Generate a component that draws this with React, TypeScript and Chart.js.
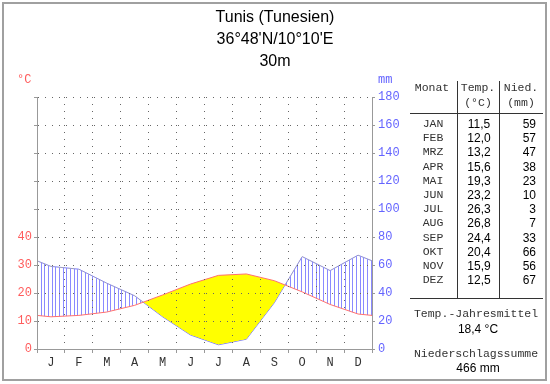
import React, { useEffect, useRef } from 'react';
import { Chart, registerables } from 'chart.js';

Chart.register(...registerables);

// ---- data ----
const TITLE_LINES = ['Tunis (Tunesien)', "36°48'N/10°10'E", '30m'];
const MONTH_INITIALS = ['J', 'F', 'M', 'A', 'M', 'J', 'J', 'A', 'S', 'O', 'N', 'D'];
const MONTH_ABBR = ['JAN', 'FEB', 'MRZ', 'APR', 'MAI', 'JUN', 'JUL', 'AUG', 'SEP', 'OKT', 'NOV', 'DEZ'];
const TEMPS = [11.5, 12.0, 13.2, 15.6, 19.3, 23.2, 26.3, 26.8, 24.4, 20.4, 15.9, 12.5];
const PRECIP = [59, 57, 47, 38, 23, 10, 3, 7, 33, 66, 56, 67];
const TEMP_LABEL_MAX = 40;
const TEMP_AXIS_MAX = 90;
const PRECIP_AXIS_MAX = 180;
const MEAN_TEMP_TEXT = '18,4 °C';
const PRECIP_SUM_TEXT = '466 mm';

// ---- styles ----
const RED = '#ff5c5c';
const BLUE = '#6464ff';
const LINE_RED = '#ff7070';
const LINE_BLUE = '#7878ff';
const HATCH = '#8a8aff';
const YELLOW = '#ffff00';
const AXIS = '#999999';
const GRID = '#666666';
const MONO = '"Liberation Mono", "Courier New", monospace';
const SANS = '"Liberation Sans", Arial, sans-serif';
const TRANSPARENT = 'rgba(0,0,0,0)';

// points include the neighbouring month on each side so the lines reach the axes
function wrapSeries(vals: number[]) {
  const pts = vals.map((v, i) => ({ x: i + 0.5, y: v }));
  return [{ x: -0.5, y: vals[vals.length - 1] }, ...pts, { x: vals.length + 0.5, y: vals[0] }];
}

const fmt = (v: number) => v.toFixed(1).replace('.', ',');

type TxtProps = {
  x: number;
  y: number;
  align?: 'left' | 'center' | 'right';
  font?: string;
  size?: number;
  color?: string;
  children: React.ReactNode;
};

function Txt({ x, y, align = 'left', font = MONO, size = 11.5, color = '#333', children }: TxtProps) {
  const w = 200;
  const left = align === 'left' ? x : align === 'center' ? x - w / 2 : x - w;
  return (
    <div
      style={{
        position: 'absolute',
        left,
        top: y - 7,
        width: w,
        height: 14,
        lineHeight: '14px',
        textAlign: align,
        fontFamily: font,
        fontSize: size,
        color,
        whiteSpace: 'pre',
      }}
    >
      {children}
    </div>
  );
}

function Line({ x1, y1, x2, y2 }: { x1: number; y1: number; x2: number; y2: number }) {
  return (
    <div
      style={{
        position: 'absolute',
        left: x1,
        top: y1,
        width: Math.max(1, x2 - x1),
        height: Math.max(1, y2 - y1),
        background: '#333',
      }}
    />
  );
}

export default function App() {
  const canvasRef = useRef<HTMLCanvasElement | null>(null);

  useEffect(() => {
    const canvas = canvasRef.current;
    if (!canvas) return;
    const ctx = canvas.getContext('2d')!;

    const pc = document.createElement('canvas');
    pc.width = 11;
    pc.height = 1;
    const pctx = pc.getContext('2d')!;
    pctx.fillStyle = HATCH;
    [0, 4, 8].forEach((px) => pctx.fillRect(px, 0, 1, 1));
    const hatch = ctx.createPattern(pc, 'repeat') as CanvasPattern;

    const tickFont = { family: MONO, size: 12 };

    const chart = new Chart(canvas, {
      type: 'line',
      data: {
        datasets: [
          {
            label: 'Temp',
            data: wrapSeries(TEMPS),
            xAxisID: 'x',
            yAxisID: 'y',
            borderColor: LINE_RED,
            borderWidth: 1,
            pointRadius: 0,
            tension: 0,
            fill: { target: 1, above: YELLOW, below: hatch } as any,
          },
          {
            label: 'Nied',
            data: wrapSeries(PRECIP),
            xAxisID: 'x',
            yAxisID: 'y2',
            borderColor: LINE_BLUE,
            borderWidth: 1,
            pointRadius: 0,
            tension: 0,
            fill: false,
          },
        ],
      },
      options: {
        animation: false,
        responsive: false,
        devicePixelRatio: 1,
        parsing: false as any,
        layout: { padding: { left: 0, top: 97, right: 138, bottom: 10 } },
        plugins: {
          legend: { display: false },
          tooltip: { enabled: false },
          title: { display: false },
        },
        scales: {
          x: {
            type: 'linear',
            position: 'bottom',
            min: 0,
            max: 12,
            afterBuildTicks: (s: any) => {
              const t = [];
              for (let i = 0; i <= MONTH_INITIALS.length * 2; i++) t.push({ value: i / 2 });
              s.ticks = t;
            },
            afterFit: (s: any) => {
              s.height = 25;
            },
            ticks: {
              autoSkip: false,
              maxRotation: 0,
              minRotation: 0,
              padding: 3,
              color: '#333',
              font: tickFont,
              callback: (v: any) => (Number.isInteger(v) ? '' : MONTH_INITIALS[Math.floor(v)]),
            },
            grid: {
              z: 1,
              lineWidth: 1,
              tickLength: 4,
              color: (c: any) => {
                const v = c.tick ? c.tick.value : 0;
                return Number.isInteger(v) && v > 0 && v < 12 ? GRID : TRANSPARENT;
              },
              tickColor: (c: any) => {
                const v = c.tick ? c.tick.value : 0;
                return Number.isInteger(v) ? AXIS : TRANSPARENT;
              },
            },
            border: { display: true, color: AXIS, dash: [1, 6], z: 1 },
          } as any,
          y: {
            type: 'linear',
            position: 'left',
            min: 0,
            max: TEMP_AXIS_MAX,
            afterFit: (s: any) => {
              s.width = 37;
            },
            ticks: {
              stepSize: 10,
              padding: 2,
              color: RED,
              font: tickFont,
              callback: (v: any) => (v <= TEMP_LABEL_MAX ? String(v) : ''),
            },
            grid: {
              z: 1,
              lineWidth: 1,
              tickLength: 3,
              color: (c: any) => (c.tick && c.tick.value > 0 ? GRID : TRANSPARENT),
              tickColor: AXIS,
            },
            border: { display: true, color: AXIS, dash: [1, 6], z: 1 },
          } as any,
          y2: {
            type: 'linear',
            position: 'right',
            min: 0,
            max: PRECIP_AXIS_MAX,
            afterFit: (s: any) => {
              s.width = 40;
            },
            ticks: {
              stepSize: 20,
              padding: 3,
              color: BLUE,
              font: tickFont,
            },
            grid: {
              z: 1,
              drawOnChartArea: false,
              tickLength: 3,
              tickColor: AXIS,
            },
            border: { display: true, color: AXIS, z: 1 },
          } as any,
        },
      },
    });
    return () => chart.destroy();
  }, []);

  const rowY0 = 124;
  const rowStep = 14.2;

  return (
    <div style={{ position: 'absolute', left: 0, top: 0, width: 550, height: 384, background: '#fff', overflow: 'hidden' }}>
      <canvas ref={canvasRef} width={550} height={384} style={{ position: 'absolute', left: 0, top: 0, width: 550, height: 384 }} />
      {/* frame */}
      <div
        style={{
          position: 'absolute',
          left: 2,
          top: 2,
          width: 545,
          height: 379,
          boxSizing: 'border-box',
          border: '2px solid #a0a0a0',
          pointerEvents: 'none',
        }}
      />
      {/* title */}
      {TITLE_LINES.map((t, i) => (
        <div
          key={i}
          style={{
            position: 'absolute',
            left: 0,
            width: 550,
            top: 6 + i * 22,
            height: 22,
            lineHeight: '22px',
            textAlign: 'center',
            fontFamily: SANS,
            fontSize: 16,
            color: '#000',
          }}
        >
          {t}
        </div>
      ))}
      {/* axis units */}
      <Txt x={17} y={80} size={12} color={RED}>°C</Txt>
      <Txt x={378} y={80} size={12} color={BLUE}>mm</Txt>

      {/* table */}
      <Txt x={432} y={88} align="center">Monat</Txt>
      <Txt x={478} y={88} align="center">Temp.</Txt>
      <Txt x={521} y={88} align="center">Nied.</Txt>
      <Txt x={478} y={103} align="center">(°C)</Txt>
      <Txt x={521} y={103} align="center">(mm)</Txt>
      <Line x1={410} y1={113} x2={543} y2={114} />
      <Line x1={457} y1={81} x2={458} y2={298} />
      <Line x1={499} y1={81} x2={500} y2={298} />
      {MONTH_ABBR.map((m, i) => (
        <React.Fragment key={m}>
          <Txt x={433} y={rowY0 + i * rowStep} align="center">{m}</Txt>
          <Txt x={479} y={rowY0 + i * rowStep} align="center" font={SANS} size={12} color="#000">
            {fmt(TEMPS[i])}
          </Txt>
          <Txt x={536} y={rowY0 + i * rowStep} align="right" font={SANS} size={12} color="#000">
            {String(PRECIP[i])}
          </Txt>
        </React.Fragment>
      ))}
      <Line x1={410} y1={298} x2={543} y2={299} />
      <Txt x={476} y={314} align="center">Temp.-Jahresmittel</Txt>
      <Txt x={478} y={329} align="center" font={SANS} size={12} color="#000">{MEAN_TEMP_TEXT}</Txt>
      <Txt x={476} y={354} align="center">Niederschlagssumme</Txt>
      <Txt x={478} y={368} align="center" font={SANS} size={12} color="#000">{PRECIP_SUM_TEXT}</Txt>
    </div>
  );
}
